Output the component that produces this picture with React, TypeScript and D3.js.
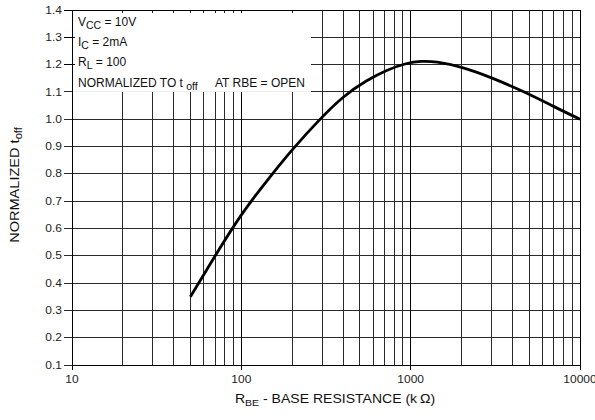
import React, { useEffect, useRef } from 'react';
import * as d3 from 'd3';

// curve: [R_BE (kΩ), normalized t_off]
const toffCurve: [number, number][] = [
  [50, 0.35], [70, 0.50], [100, 0.655], [150, 0.795], [200, 0.89],
  [290, 1.0], [400, 1.085], [550, 1.143], [730, 1.182], [950, 1.206],
  [1150, 1.213], [1400, 1.212], [2000, 1.192], [3000, 1.153],
  [5000, 1.093], [7000, 1.046], [10000, 1.0],
];
const xDecades = [10, 100, 1000, 10000];
const xMinor = [2, 3, 4, 5, 6, 7, 8, 9];
const yTicks = [0.1, 0.2, 0.3, 0.4, 0.5, 0.6, 0.7, 0.8, 0.9, 1.0, 1.1, 1.2, 1.3, 1.4];

const W = 595;
const H = 420;
const FONT = "'Liberation Sans', Arial, Helvetica, sans-serif";

const App: React.FC = () => {
  const svgRef = useRef<SVGSVGElement>(null);

  useEffect(() => {
    if (!svgRef.current) return;
    const svg = d3.select(svgRef.current);
    svg.selectAll("*").remove();

    const x = d3.scaleLog().domain([10, 10000]).range([72, 580]);
    const y = d3.scaleLinear().domain([0.1, 1.4]).range([365, 10]);
    const [x0, x1] = x.range();
    const [yb, yt] = y.range();

    const grid = svg.append("g").attr("stroke", "#2a2a2a").attr("stroke-width", 1).attr("shape-rendering", "crispEdges");

    // horizontal grid lines + left ticks
    yTicks.forEach(t => {
      grid.append("line").attr("x1", x0).attr("x2", x1).attr("y1", y(t)).attr("y2", y(t));
      grid.append("line").attr("x1", x0 - 8).attr("x2", x0).attr("y1", y(t)).attr("y2", y(t));
    });

    // vertical grid lines
    const minorVals: number[] = [];
    xDecades.slice(0, -1).forEach(d => xMinor.forEach(m => minorVals.push(d * m)));
    minorVals.forEach(v => {
      grid.append("line").attr("x1", x(v)).attr("x2", x(v)).attr("y1", yt).attr("y2", yb);
    });
    xDecades.forEach(v => {
      grid.append("line").attr("x1", x(v)).attr("x2", x(v)).attr("y1", yt).attr("y2", yb + 5)
        .attr("stroke", "#000");
    });
    grid.append("line").attr("x1", x0).attr("x2", x1).attr("y1", yb).attr("y2", yb).attr("stroke", "#000");
    grid.append("line").attr("x1", x0).attr("x2", x1).attr("y1", yt).attr("y2", yt).attr("stroke", "#000");

    // condition box blanks the grid in the upper left
    svg.append("rect")
      .attr("x", x0 + 1)
      .attr("y", yt + 3)
      .attr("width", 311 - x0 - 1)
      .attr("height", y(1.1) - yt - 3)
      .attr("fill", "#fff");
    yTicks.filter(t => t > 1.1).forEach(t => {
      svg.append("line").attr("x1", x0 - 8).attr("x2", x0 + 3).attr("y1", y(t)).attr("y2", y(t))
        .attr("stroke", "#000").attr("shape-rendering", "crispEdges");
    });
    svg.append("line").attr("x1", x0).attr("x2", x0).attr("y1", yt).attr("y2", yb)
      .attr("stroke", "#000").attr("shape-rendering", "crispEdges");

    // curve
    const line = d3.line<[number, number]>()
      .x(d => x(d[0]))
      .y(d => y(d[1]))
      .curve(d3.curveBasis);
    svg.append("path")
      .attr("d", line(toffCurve))
      .attr("fill", "none")
      .attr("stroke", "#000")
      .attr("stroke-width", 2.8)
      .attr("stroke-linejoin", "round");

    // y tick labels
    yTicks.forEach(t => {
      svg.append("text")
        .attr("transform", `translate(${x0 - 10},${y(t) + 3.6}) scale(1.2,1)`)
        .attr("text-anchor", "end")
        .attr("font-family", FONT)
        .attr("font-size", 10)
        .attr("fill", "#222")
        .text(t.toFixed(1));
    });
    // x tick labels
    xDecades.forEach(v => {
      svg.append("text")
        .attr("transform", `translate(${x(v)},${yb + 18}) scale(1.2,1)`)
        .attr("text-anchor", "middle")
        .attr("font-family", FONT)
        .attr("font-size", 10)
        .attr("fill", "#222")
        .text(String(v));
    });

    // condition text
    const box = svg.append("g").attr("font-family", FONT).attr("font-size", 12).attr("fill", "#111");
    const addSub = (yy: number, main: string, sub: string, rest: string) => {
      const t = box.append("text").attr("x", 78).attr("y", yy);
      t.append("tspan").text(main);
      t.append("tspan").attr("font-size", 10.5).attr("dy", 3).text(sub);
      t.append("tspan").attr("dy", -3).text(rest);
    };
    addSub(25.5, "V", "CC", "  = 10V");
    addSub(45.5, "I", "C", " = 2mA");
    addSub(65.5, "R", "L", " = 100");
    addSub(86.5, "NORMALIZED TO t ", "off", "");
    box.append("text").attr("x", 215).attr("y", 86.5).text("AT RBE = OPEN");

    // x axis title
    const xt = svg.append("text")
      .attr("transform", `translate(335,403) scale(1.17,1)`)
      .attr("text-anchor", "middle")
      .attr("font-family", FONT)
      .attr("font-size", 12)
      .attr("fill", "#111");
    xt.append("tspan").text("R");
    xt.append("tspan").attr("font-size", 9).attr("dy", 3).text("BE");
    xt.append("tspan").attr("dy", -3).text(" - BASE RESISTANCE (k\u2009\u03A9)");

    // y axis title
    const yt2 = svg.append("text")
      .attr("transform", `translate(19,185) rotate(-90) scale(1.12,1)`)
      .attr("text-anchor", "middle")
      .attr("font-family", FONT)
      .attr("font-size", 13)
      .attr("fill", "#111");
    yt2.append("tspan").text("NORMALIZED t");
    yt2.append("tspan").attr("font-size", 10).attr("dy", 3).text("off");
  }, []);

  return (
    <svg
      ref={svgRef}
      width={W}
      height={H}
      style={{ position: 'absolute', left: 0, top: 0, background: '#fff' }}
    />
  );
};

export default App;
